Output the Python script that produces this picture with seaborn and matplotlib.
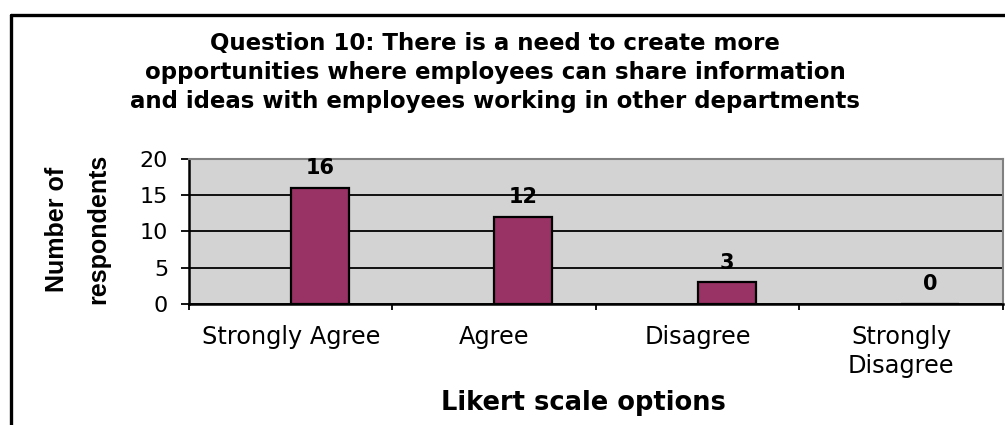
import matplotlib
matplotlib.use("Agg")
import matplotlib.pyplot as plt
from matplotlib.lines import Line2D
import seaborn as sns
import pandas as pd

# Survey results
categories = ["Strongly Agree", "Agree", "Disagree", "Strongly\nDisagree"]
respondents = [16, 12, 3, 0]
series_name = "Responses"

title = ("Question 10: There is a need to create more\n"
         "opportunities where employees can share information\n"
         "and ideas with employees working in other departments")
y_label = "Number of\nrespondents"
x_label = "Likert scale options"
y_ticks = [0, 5, 10, 15, 20]

sns.set_theme(style="white")
plt.rcParams["font.family"] = ["DejaVu Sans"]
for key in ["text.color", "axes.labelcolor", "xtick.color", "ytick.color"]:
    plt.rcParams[key] = "black"

df = pd.DataFrame({"option": categories, "count": respondents, "series": series_name})

fig = plt.figure(figsize=(10.05, 4.25), dpi=100)
ax = fig.add_axes([0.188, 0.2847, 0.810, 0.3413])
ax.set_facecolor("#D3D3D3")

# The empty leading hue slot keeps each column just right of its category centre
sns.barplot(data=df, x="option", y="count", hue="series",
            hue_order=["", series_name], order=categories, dodge=True,
            palette={"": "#993366", series_name: "#993366"}, saturation=1,
            width=0.57, edgecolor="black", linewidth=1.6,
            legend=False, ax=ax, zorder=3)

ax.set_ylim(0, 20)
ax.set_xlim(-0.5, len(categories) - 0.5)
ax.set_yticks(y_ticks)
ax.yaxis.grid(True, color="black", linewidth=1.3, zorder=1)
ax.set_axisbelow(True)

for cont in ax.containers:
    if len(cont) == len(categories):
        ax.bar_label(cont, labels=[str(v) for v in respondents], padding=7,
                     fontsize=15, fontweight="bold", color="black")

# Category ticks sit on the boundaries, labels on the centres
ax.set_xticks([i + 0.5 for i in range(-1, len(categories))], minor=False)
ax.set_xticklabels([])
ax.set_xticks(range(len(categories)), minor=True)
ax.set_xticklabels(categories, minor=True, fontsize=17.3, linespacing=1.25)
ax.tick_params(axis="x", which="major", direction="out", length=4.5, width=1.3,
               color="black", bottom=True)
ax.tick_params(axis="x", which="minor", length=0, pad=15)
ax.tick_params(axis="y", direction="out", length=6, width=1.3, color="black",
               left=True, labelsize=16, pad=9)

for side in ["left", "bottom"]:
    ax.spines[side].set_color("black")
    ax.spines[side].set_linewidth(1.8)
for side in ["top", "right"]:
    ax.spines[side].set_color("#808080")
    ax.spines[side].set_linewidth(1.5)

ax.set_xlabel(x_label, fontsize=18.5, fontweight="bold", va="center")
ax.xaxis.set_label_coords(0.484, -0.683)
ax.set_ylabel("")
fig.text(0.077, 0.461, y_label, rotation=90, ha="center", va="center",
         fontsize=18, fontweight="bold", linespacing=1.9,
         family=["Liberation Sans", "DejaVu Sans"])

fig.text(0.4925, 0.83, title, ha="center", va="center", fontsize=16.5,
         fontweight="bold", linespacing=1.33)

# Outer chart frame
fig.add_artist(Line2D([0.0105, 0.0105], [0.0, 0.965], transform=fig.transFigure,
                      color="black", linewidth=2.4))
fig.add_artist(Line2D([0.0105, 1.0], [0.965, 0.965], transform=fig.transFigure,
                      color="black", linewidth=2.4))

fig.savefig("out.png", dpi=100)
